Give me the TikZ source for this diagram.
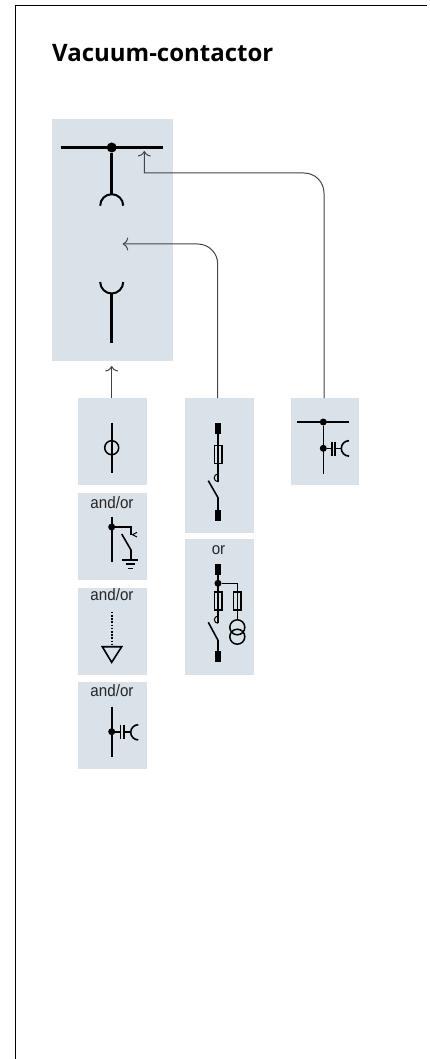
\documentclass[tikz,border=0pt]{standalone}
\usepackage{fontspec}
\setmainfont{Liberation Sans}
\newfontfamily\titlefont{Open Sans}[Scale=1.0]
\newfontfamily\labelfont{Liberation Sans}[FakeStretch=0.92]
\usetikzlibrary{arrows.meta}
\definecolor{panelgray}{HTML}{D9E2E8}
\definecolor{wiregray}{HTML}{444444}
\tikzstyle{panel} = [fill=panelgray,inner sep=0pt,outer sep=0pt]
\tikzstyle{link} = [wiregray,line width=1pt,rounded corners=20pt,-{To[length=5.5pt,width=13pt,line width=1pt,fill=none]}]
\tikzstyle{wire} = [black,line width=1.6pt]
\tikzstyle{heavy} = [black,line width=3.2pt]
\tikzstyle{dot} = [circle,fill=black,inner sep=0pt,minimum size=7pt]
\tikzstyle{orlabel} = [text=black!85,inner sep=0pt,font=\labelfont\fontsize{16.5}{16.5}\selectfont]
\tikzstyle{fuse} = [draw=black,line width=1.4pt,inner sep=0pt,minimum width=7.6pt,minimum height=18pt]
\tikzstyle{block} = [fill=black,inner sep=0pt,minimum width=6pt,minimum height=10.6pt]

\begin{document}
\begin{tikzpicture}[x=1pt,y=-1pt]
        \useasboundingbox (0,0) rectangle (430,1059);

        % Frame
        \draw [black,line width=1pt] (15.5,1059) -- (15.5,5.5) -- (427,5.5);

        % Title
        \node at (52,62) [anchor=base west,inner sep=0pt] (title) {\titlefont\bfseries\fontsize{24}{24}\selectfont Vacuum-contactor};

        % Panels
        \node at (112.5,240) [panel,minimum width=121pt,minimum height=242pt] (main) {};
        \node at (112.5,441.5) [panel,minimum width=69pt,minimum height=87pt] (ct) {};
        \node at (112.5,536.5) [panel,minimum width=69pt,minimum height=87pt] (earth) {};
        \node at (112.5,631.5) [panel,minimum width=69pt,minimum height=87pt] (sensor) {};
        \node at (112.5,725.5) [panel,minimum width=69pt,minimum height=87pt] (divider) {};
        \node at (219.5,465.5) [panel,minimum width=69pt,minimum height=135pt] (vt) {};
        \node at (219.5,607) [panel,minimum width=69pt,minimum height=136pt] (vtpair) {};
        \node at (325,441.5) [panel,minimum width=68pt,minimum height=87pt] (busvt) {};

        % Connectors
        \coordinate (tipct) at (111.7,366);
        \coordinate (tipvt) at (122.7,244);
        \coordinate (tipbus) at (144.3,151);
        \coordinate (ctop) at (111.7,398);
        \coordinate (vtop) at (217.7,398);
        \coordinate (btop) at (324,398);
        \draw [link] (ctop) -- (tipct);
        \draw [link] (vtop) |- (tipvt);
        \draw [link] (btop) -- (324,173) [sharp corners] -- (144.3,173) -- (tipbus);

        % Withdrawable unit
        \draw [heavy,line width=3.6pt] (60.7,147.5) -- (162.7,147.5);
        \node at (111.7,147.5) [dot,minimum size=10pt] (busdot) {};
        \draw [heavy] (busdot) -- (111.7,195);
        \draw [black,line width=2pt] (100.2,205.7) arc (180:360:11.5);
        \draw [black,line width=2pt] (100.2,282) arc (180:0:11.5);
        \draw [heavy] (111.7,293.5) -- (111.7,342.7);

        % Current transformer
        \draw [wire] (111.7,422.7) -- (111.7,472.7);
        \node at (111.7,447.7) [circle,draw=black,line width=1.5pt,inner sep=0pt,minimum size=14pt] (ring) {};

        % Earthing switch
        \node at (112,503) [orlabel] (lbla) {and/or};
        \draw [wire] (111.7,516.7) -- (111.7,562);
        \node at (111.7,527) [dot] (esdot) {};
        \draw [wire] (esdot) -- (131,527) -- (131,535);
        \draw [wire,line width=1pt] (137,532.3) -- (132.5,534.7) -- (137,537);
        \draw [wire] (121.7,534) -- (131,550) -- (131,560);
        \draw [wire] (122.3,560) -- (138.3,560);
        \draw [wire] (125.7,564) -- (135,564);
        \draw [wire] (127.7,568.3) -- (132.7,568.3);

        % Voltage sensor
        \node at (112,595) [orlabel] (lblb) {and/or};
        \draw [wire,dash pattern=on 1.6pt off 1.6pt] (111.7,611.7) -- (111.7,645);
        \draw [wire,line join=miter] (102.3,646.7) -- (121.7,646.7) -- (111.7,662.3) -- cycle;

        % Capacitive divider
        \node at (112,690.5) [orlabel] (lblc) {and/or};
        \draw [wire] (111.7,706.7) -- (111.7,757.3);
        \node at (111.7,731.7) [dot] (capdot) {};
        \draw [wire] (capdot) -- (120.3,731.7);
        \draw [wire] (120.3,724.7) -- (120.3,738.7);
        \draw [wire] (123.7,724.7) -- (123.7,738.7);
        \draw [wire] (123.7,731.7) -- (131,731.7);
        \draw [wire] (138.3,724.7) arc (270:90:7.6);

        % Fuse with switch
        \node at (218,428.7) [block] (blocka) {};
        \node at (218,454.3) [fuse] (fusea) {};
        \node at (218,515.3) [block] (blockb) {};
        \draw [wire] (blocka) -- (218,481.7);
        \draw [wire,line width=1pt] (218,474) arc (270:90:3.85);
        \draw [wire] (208.3,480.7) -- (218,497.7) -- (blockb);

        % Fuse with switch and transformer
        \node at (218.5,550.5) [orlabel] (lbld) {or};
        \node at (218,569.7) [block] (blockc) {};
        \node at (218,583.3) [dot] (vtdot) {};
        \node at (218,600.8) [fuse] (fuseb) {};
        \node at (237.3,600.8) [fuse] (fusec) {};
        \node at (218,656.7) [block] (blockd) {};
        \draw [wire] (blockc) -- (218,623.3);
        \draw [wire] (vtdot) -- (237.3,583.3) -- (237.3,620);
        \draw [wire,line width=1pt] (218,616) arc (270:90:3.65);
        \draw [wire] (208.3,622.3) -- (218,640.3) -- (blockd);
        \node at (237.3,627.3) [circle,draw=black,line width=1.5pt,inner sep=0pt,minimum size=15pt] (coila) {};
        \node at (237.3,636.7) [circle,draw=black,line width=1.5pt,inner sep=0pt,minimum size=15pt] (coilb) {};

        % Bus section with divider
        \draw [wire] (297.3,422) -- (349,422);
        \node at (323.3,422) [dot] (bdota) {};
        \node at (323.3,448.3) [dot] (bdotb) {};
        \draw [wire] (bdota) -- (323.3,474);
        \draw [wire] (bdotb) -- (331.7,448.3);
        \draw [wire] (331.7,441.7) -- (331.7,455.7);
        \draw [wire] (334.8,441.7) -- (334.8,455.7);
        \draw [wire] (334.8,448.3) -- (341,448.3);
        \draw [wire] (349,440.7) arc (270:90:7.7);

\end{tikzpicture}
\end{document}
